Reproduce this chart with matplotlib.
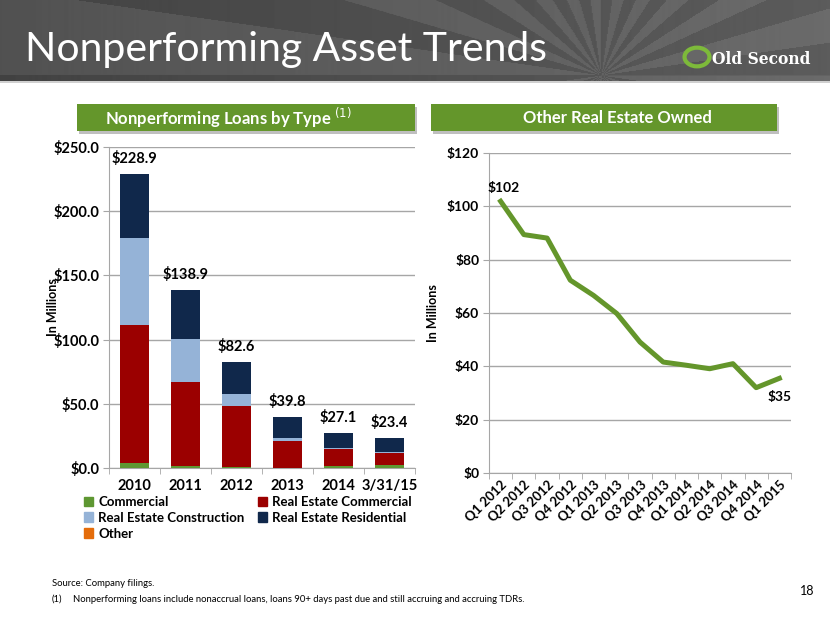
import numpy as np
import matplotlib
matplotlib.use("Agg")
import matplotlib.pyplot as plt
from matplotlib.patches import Rectangle, Patch

plt.rcParams['font.family'] = ['Lato', 'DejaVu Sans']

# --- data: nonperforming loans by type ($M) ---
periods = ['2010', '2011', '2012', '2013', '2014', '3/31/15']
commercial = [3.9, 1.3, 0.5, 0.2, 1.6, 2.1]
re_commercial = [107.4, 65.3, 47.9, 20.9, 13.5, 9.9]
re_construction = [67.7, 33.6, 9.6, 2.6, 0.8, 0.7]
re_residential = [49.9, 38.7, 24.6, 16.1, 11.2, 10.7]
other = [0.0, 0.0, 0.0, 0.0, 0.0, 0.0]
totals = ['$228.9', '$138.9', '$82.6', '$39.8', '$27.1', '$23.4']

# --- data: other real estate owned ($M) ---
quarters = ['Q1 2012', 'Q2 2012', 'Q3 2012', 'Q4 2012', 'Q1 2013', 'Q2 2013',
            'Q3 2013', 'Q4 2013', 'Q1 2014', 'Q2 2014', 'Q3 2014', 'Q4 2014', 'Q1 2015']
oreo = [101.9, 89.4, 88.1, 72.3, 66.6, 59.8, 49.1, 41.6, 40.4, 39.1, 41.0, 32.0, 35.5]

GREEN = '#64962B'
C_COM = '#5E9732'
C_REC = '#9B0000'
C_CON = '#95B3D7'
C_RES = '#10284B'
C_OTH = '#E46C0A'
GRID = '#A6A6A6'

fig = plt.figure(figsize=(8.3, 6.23), dpi=100)

# header banner with rays
bg = fig.add_axes([0, 1 - 81 / 623, 1, 81 / 623])
bg.set_axis_off()
h, w = 81, 830
yy, xx = np.mgrid[0:h, 0:w]
ang = np.arctan2(yy - 75, xx - 600)
rays = 0.5 + 0.5 * np.sign(np.sin(ang * 22))
base = 0.26 + 0.10 * (xx / w)
img = base + 0.06 * rays
bg.imshow(img, cmap='gray', vmin=0, vmax=1, aspect='auto', extent=[0, w, h, 0])
bg.set_xlim(0, w)
bg.set_ylim(h, 0)
fig.add_artist(Rectangle((0, 1 - 83 / 623), 1, 2 / 623, transform=fig.transFigure,
                         color='#D0D0D0', lw=0))

fig.text(25 / 830, 1 - 50 / 623, 'Nonperforming Asset Trends', color='white',
         fontsize=29.5, va='center', ha='left')
fig.text(712 / 830, 1 - 59 / 623, 'Old Second', color='white', fontsize=11.2,
         fontweight='bold', family=['DejaVu Serif'], va='center', ha='left')
fig.add_artist(plt.Circle((697 / 830, 1 - 57 / 623), 0.015, transform=fig.transFigure,
                          fill=False, ec='#7DBA3A', lw=3))

# green section headers
for x0, x1, xt, label in [(77, 415, 228, 'Nonperforming Loans by Type $^{(1)}$'),
                          (431, 777, 617, 'Other Real Estate Owned')]:
    fig.add_artist(Rectangle((x0 / 830 + 0.003, 1 - 134 / 623), (x1 - x0) / 830, 27 / 623,
                             transform=fig.transFigure, color='#BFBFBF', lw=0))
    fig.add_artist(Rectangle((x0 / 830, 1 - 131 / 623), (x1 - x0) / 830, 27 / 623,
                             transform=fig.transFigure, color=GREEN, lw=0))
    fig.text(xt / 830, 1 - 118 / 623, label, color='white', fontsize=12,
             fontweight='bold', ha='center', va='center')

# ---- stacked bar chart ----
ax = fig.add_axes([109 / 830, 155 / 623, 306 / 830, 321 / 623])
x = np.arange(len(periods))
bw = 0.57
bottom = np.zeros(len(periods))
for vals, col in [(commercial, C_COM), (re_commercial, C_REC),
                  (re_construction, C_CON), (re_residential, C_RES), (other, C_OTH)]:
    ax.bar(x, vals, bw, bottom=bottom, color=col, zorder=3)
    bottom += np.array(vals)
for xi, top, lab in zip(x, bottom, totals):
    ax.text(xi, top + 6, lab, ha='center', va='bottom', fontsize=10.5, fontweight='bold')

ax.set_ylim(0, 250)
ax.set_xlim(-0.5, len(periods) - 0.5)
ax.set_yticks(np.arange(0, 251, 50))
ax.set_yticklabels([f'${v:.1f}' for v in np.arange(0, 251, 50)], fontsize=10.5, fontweight='bold')
ax.set_xticks(x)
ax.set_xticklabels(periods, fontsize=10.5, fontweight='bold')
ax.set_xticks(np.arange(-0.5, len(periods), 1), minor=True)
ax.tick_params(axis='x', which='major', length=0, pad=8)
ax.tick_params(axis='x', which='minor', length=4, color=GRID)
ax.tick_params(axis='y', length=4, color=GRID, pad=3)
ax.yaxis.grid(True, color=GRID, lw=1, zorder=0)
for s in ['top', 'right']:
    ax.spines[s].set_visible(False)
for s in ['left', 'bottom']:
    ax.spines[s].set_color(GRID)
ax.set_ylabel('In Millions', fontsize=9, fontweight='bold', labelpad=-4)

handles = [Patch(color=C_COM, label='Commercial'),
           Patch(color=C_CON, label='Real Estate Construction'),
           Patch(color=C_OTH, label='Other'),
           Patch(color=C_REC, label='Real Estate Commercial'),
           Patch(color=C_RES, label='Real Estate Residential')]
leg = ax.legend(handles=handles, ncol=2, loc='upper left', bbox_to_anchor=(-0.1, -0.07),
                frameon=False, prop={'size': 9.5, 'weight': 'bold'}, handlelength=0.7,
                handleheight=0.7, handletextpad=0.4, columnspacing=1.0, labelspacing=0.3,
                borderaxespad=0)

# ---- OREO line chart ----
ax2 = fig.add_axes([489 / 830, 150 / 623, 302 / 830, 320 / 623])
xq = np.arange(len(quarters))
ax2.plot(xq, oreo, color=GREEN, lw=3.6, solid_joinstyle='round', zorder=3)
ax2.text(xq[0] + 0.15, oreo[0] + 5, '$102', fontsize=10, fontweight='bold', ha='center', va='center')
ax2.text(xq[-1], oreo[-1] - 7, '$35', fontsize=10, fontweight='bold', ha='center', va='center')
ax2.set_ylim(0, 120)
ax2.set_xlim(-0.5, len(quarters) - 0.5)
ax2.set_yticks(np.arange(0, 121, 20))
ax2.set_yticklabels([f'${v}' for v in np.arange(0, 121, 20)], fontsize=10, fontweight='bold')
ax2.set_xticks(xq)
ax2.set_xticklabels(quarters, fontsize=9.5, fontweight='bold', rotation=45, ha='right',
                    rotation_mode='anchor')
ax2.set_xticks(np.arange(-0.5, len(quarters), 1), minor=True)
ax2.tick_params(axis='x', which='major', length=0, pad=4)
ax2.tick_params(axis='x', which='minor', length=4, color=GRID)
ax2.tick_params(axis='y', length=4, color=GRID, pad=3)
ax2.yaxis.grid(True, color=GRID, lw=1, zorder=0)
for s in ['top', 'right']:
    ax2.spines[s].set_visible(False)
for s in ['left', 'bottom']:
    ax2.spines[s].set_color(GRID)
ax2.set_ylabel('In Millions', fontsize=9, fontweight='bold', labelpad=6)

# footer
fig.text(52 / 830, 1 - 583 / 623, 'Source: Company filings.', fontsize=6.8, va='center')
fig.text(52 / 830, 1 - 599 / 623, '(1)', fontsize=6.8, va='center')
fig.text(73 / 830, 1 - 599 / 623,
         'Nonperforming loans include nonaccrual loans, loans 90+ days past due and still accruing and accruing TDRs.',
         fontsize=6.8, va='center')
fig.text(814 / 830, 1 - 591 / 623, '18', fontsize=9, va='center', ha='right')

fig.savefig('out.png', dpi=100)
